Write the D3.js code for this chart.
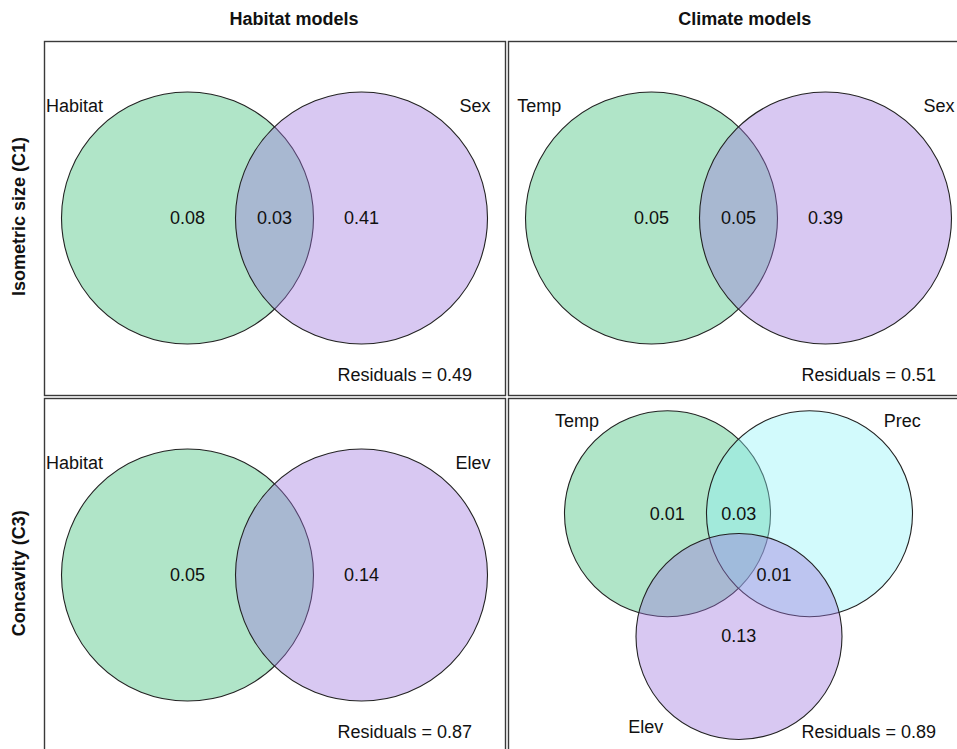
<!DOCTYPE html>
<html>
<head>
<meta charset="utf-8">
<script src="https://cdn.jsdelivr.net/npm/d3@7/dist/d3.min.js"></script>
<style>
  html, body { margin: 0; padding: 0; background: #fff; }
  svg { display: block; }
  text { font-family: "Liberation Sans", Arial, Helvetica, sans-serif; fill: #111; }
</style>
</head>
<body>
<svg id="chart" width="957" height="749"></svg>
<script>
// ---------------- data ----------------
const columnTitles = ["Habitat models", "Climate models"];
const rowTitles = ["Isometric size (C1)", "Concavity (C3)"];

// sets in each panel (row-major: C1-habitat, C1-climate, C3-habitat, C3-climate)
const panelSets = [
  ["Habitat", "Sex"],
  ["Temp", "Sex"],
  ["Habitat", "Elev"],
  ["Temp", "Prec", "Elev"]
];

// region values: two-set panels = [A only, A∩B, B only]
// three-set panel = [Temp only, Temp∩Prec, Prec∩Elev, Elev only]
const panelValues = [
  [0.08, 0.03, 0.41],
  [0.05, 0.05, 0.39],
  [0.05, null, 0.14],
  [0.01, 0.03, 0.01, 0.13]
];

const residualValues = [0.49, 0.51, 0.87, 0.89];

const setColors = {
  Habitat: "#3abe76",
  Temp: "#3abe76",
  Sex: "#9e76de",
  Elev: "#9e76de",
  Prec: "#8ff3f8"
};

// ---------------- layout ----------------
const svg = d3.select("#chart");
const panelW = 461, panelH = 354;

const colScale = d3.scaleOrdinal().domain([0, 1]).range([44, 508]);
const rowScale = d3.scaleOrdinal().domain([0, 1]).range([41, 398]);

// panel-local unit coordinates -> pixels
const ux = d3.scaleLinear().domain([0, 1]).range([0, panelW]);
const uy = d3.scaleLinear().domain([0, 1]).range([0, panelH]);

const fmt = d3.format(".2f");
const fontSize = 18;

// column titles
svg.selectAll("text.coltitle")
  .data(columnTitles)
  .join("text")
  .attr("class", "coltitle")
  .attr("x", (d, i) => [294, 744.7][i])
  .attr("y", 25)
  .attr("text-anchor", "middle")
  .style("font-weight", "bold")
  .style("font-size", fontSize + "px")
  .text(d => d);

// row titles
svg.selectAll("text.rowtitle")
  .data(rowTitles)
  .join("text")
  .attr("class", "rowtitle")
  .attr("transform", (d, i) => `translate(25,${[216.5, 573.3][i]}) rotate(-90)`)
  .attr("text-anchor", "middle")
  .style("font-weight", "bold")
  .style("font-size", fontSize + "px")
  .text(d => d);

// circle layouts in panel-local unit coordinates
function layout(n, firstLabelX) {
  if (n === 2) {
    const r = ux(126 / panelW);
    return {
      circles: [
        { cx: 143.5 / panelW, cy: 177 / panelH, r },
        { cx: 317.5 / panelW, cy: 177 / panelH, r }
      ],
      regions: [
        { x: 143.5 / panelW, y: 177 / panelH },
        { x: 230.5 / panelW, y: 177 / panelH },
        { x: 317.5 / panelW, y: 177 / panelH }
      ],
      labels: [
        { x: firstLabelX / panelW, y: 70.5 / panelH, anchor: "start" },
        { x: 446.5 / panelW, y: 70.5 / panelH, anchor: "end" }
      ]
    };
  }
  const r = ux(103 / panelW);
  return {
    circles: [
      { cx: 159.5 / panelW, cy: 115.7 / panelH, r },
      { cx: 301.5 / panelW, cy: 115.7 / panelH, r },
      { cx: 231 / panelW, cy: 238.5 / panelH, r }
    ],
    regions: [
      { x: 159.3 / panelW, y: 116 / panelH },
      { x: 230.7 / panelW, y: 116 / panelH },
      { x: 266 / panelW, y: 176.7 / panelH },
      { x: 230.7 / panelW, y: 237.7 / panelH }
    ],
    labels: [
      { x: 47 / panelW, y: 29 / panelH, anchor: "start" },
      { x: 412.7 / panelW, y: 29 / panelH, anchor: "end" },
      { x: 120.3 / panelW, y: 335.3 / panelH, anchor: "start" }
    ]
  };
}

panelSets.forEach((sets, p) => {
  const col = p % 2, row = Math.floor(p / 2);
  const g = svg.append("g")
    .attr("transform", `translate(${colScale(col)},${rowScale(row)})`);

  const L = layout(sets.length, sets[0] === "Temp" ? 9.3 : 2);

  // circles
  g.selectAll("circle")
    .data(L.circles.map((c, i) => ({ ...c, name: sets[i] })))
    .join("circle")
    .attr("cx", d => ux(d.cx))
    .attr("cy", d => uy(d.cy))
    .attr("r", d => d.r)
    .attr("fill", d => setColors[d.name])
    .attr("fill-opacity", 0.4)
    .attr("stroke", "#222")
    .attr("stroke-width", 1.1);

  // set labels
  g.selectAll("text.setlabel")
    .data(L.labels.map((l, i) => ({ ...l, name: sets[i] })))
    .join("text")
    .attr("class", "setlabel")
    .attr("x", d => ux(d.x))
    .attr("y", d => uy(d.y))
    .attr("text-anchor", d => d.anchor)
    .style("font-size", fontSize + "px")
    .text(d => d.name);

  // region values
  g.selectAll("text.region")
    .data(L.regions.map((r, i) => ({ ...r, v: panelValues[p][i] })).filter(d => d.v !== null))
    .join("text")
    .attr("class", "region")
    .attr("x", d => ux(d.x))
    .attr("y", d => uy(d.y) + 6.3)
    .attr("text-anchor", "middle")
    .style("font-size", fontSize + "px")
    .text(d => fmt(d.v));

  // residuals
  g.append("text")
    .attr("x", ux(428 / panelW))
    .attr("y", uy(340 / panelH))
    .attr("text-anchor", "end")
    .style("font-size", fontSize + "px")
    .text("Residuals = " + fmt(residualValues[p]));

  // panel border
  g.append("rect")
    .attr("x", 0.5)
    .attr("y", 0.5)
    .attr("width", panelW)
    .attr("height", panelH)
    .attr("fill", "none")
    .attr("stroke", "#3a3a3a")
    .attr("stroke-width", 1.4);
});
</script>
</body>
</html>
